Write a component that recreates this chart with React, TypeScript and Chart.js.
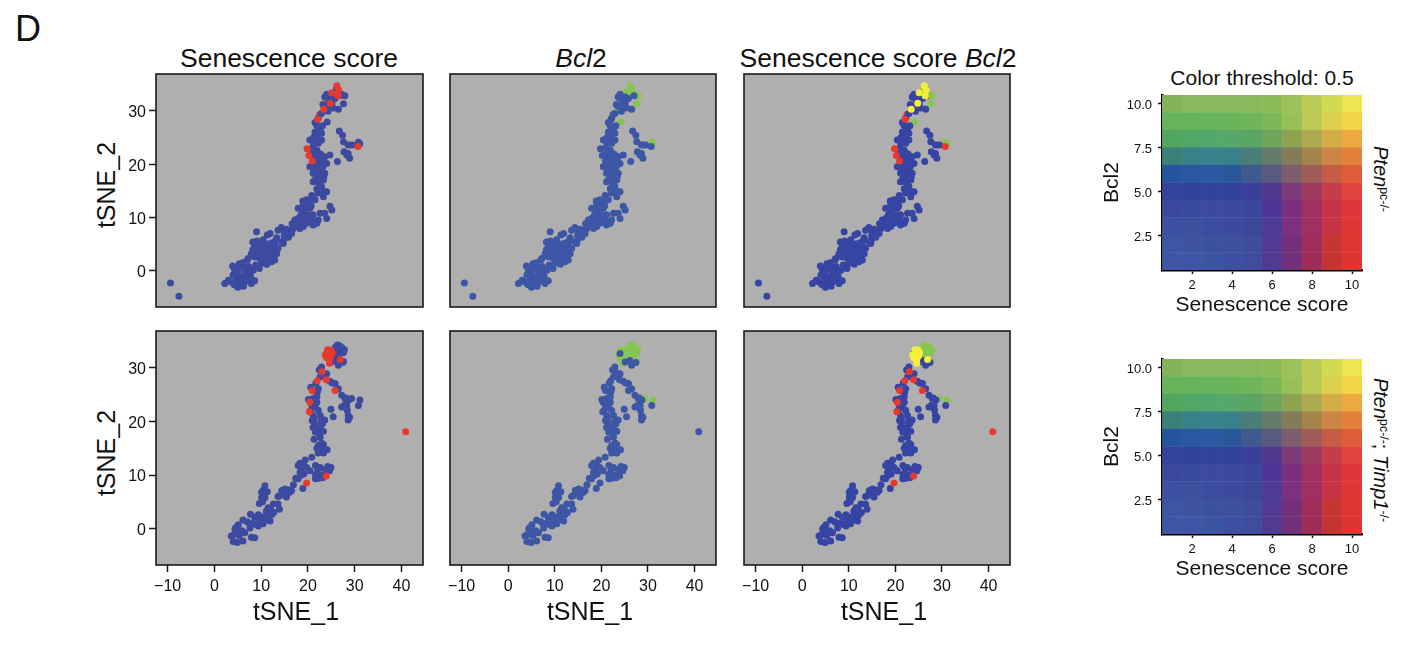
import { useEffect, useRef, type CSSProperties, type ReactNode } from "react"
import { Chart, registerables } from "chart.js"

Chart.register(...registerables)

type Cell = [number, number]

const xTicks = [-10, 0, 10, 20, 30, 40]
const yTicks = [0, 10, 20, 30]
const scoreLevels = [1, 2, 3, 4, 5, 6, 7, 8, 9, 10]
const bcl2Levels = [1, 2, 3, 4, 5, 6, 7, 8, 9, 10]
const bcl2Ticks = [2.5, 5, 7.5, 10]

// Pten pc-/- cells, split by what they express
const topCells: Cell[] = [
  [-9.4, -2.3], [-7.6, -4.8],
  [2.2, -2.4], [3.6, -2.1], [4, -0.8], [4.3, 0.3], [5.3, 1.3], [5, 0.1], [4.8, -1.4], [5.3, -2.1], [5, -3.1], [4.6, -2.7],
  [5.8, -2.6], [6.5, -2.1], [7.2, -1.4], [7.9, -2.4], [8.6, -1.9], [7.6, -0.2], [6.5, 0], [8.3, 0.1], [7.2, 2.3], [7.9, 3.2],
  [7, 2], [9.6, 0.4], [10.1, 1.4], [11.2, 1.2], [12.2, 1.7], [12.9, 2], [11.9, 2.9], [10.8, 2.3], [9.7, 2.3], [9, 3.2],
  [8.6, 4.5], [9.7, 4.8], [10.4, 5.8], [9, 7.3], [10.8, 3.9], [11.9, 4.2], [12.9, 4.8], [13.6, 4.2], [12.6, 3.2], [14.4, 5.4],
  [14.7, 5.1], [13.3, 6.2], [11.9, 7], [11.3, 6.7], [13.6, 7.6], [14.3, 8.1], [15, 7.3], [15.8, 6.3], [16.1, 7.6], [16.9, 7.9],
  [17.6, 8.9], [17.2, 9.5], [18.3, 7.9], [19, 8.3], [17.9, 9.8], [19.7, 8.9], [21.1, 8.6], [21.9, 8.9], [22.2, 9.5], [24, 9.8],
  [25.1, 11.4], [23.6, 10.8], [22.6, 10.8], [24.7, 12.1], [17.9, 11.7], [19, 11.1], [20, 10.5], [21.1, 10.5], [19, 12.4],
  [19.7, 13.3], [20.8, 14.1], [21.5, 13.3], [20.4, 11.7], [19.3, 10.2], [9.5, 3.9], [10.3, 3], [11.4, 3.4], [8.2, 4], [6, 0.9],
  [6.9, -0.6], [5.9, -1.3], [4.5, -2], [13, 5.6], [12.2, 5.2], [14.9, 6.6], [16.6, 8.8], [18.6, 9.3], [18.9, 13.1], [20.1, 12.8],
  [3, -1.8], [4.2, -2.6], [5.6, -1], [6.2, -2.9], [7.7, -1], [6, 1.5], [5.2, 0.7], [4.5, -0.6], [3.9, 0.9], [7.3, 0.8],
  [8.8, 1.1], [8.6, 2.6], [10.5, 1.9], [9.9, 3.4], [10.6, 4.6], [11.6, 2.4], [12.8, 3.9], [13.3, 3.2], [11.3, 5], [9.1, 5.6],
  [8.2, 5.4], [14.9, 5.9], [15.4, 7.8], [16.5, 7], [17.1, 8.6], [18, 8.5], [18.5, 10.5], [19.5, 11.8], [20.4, 13.1], [20.7, 12.2],
  [19.6, 9.8], [18.6, 8.7], [21, 9.3], [20.1, 9.4],
  [22.9, 15.8], [23.3, 17], [24, 14.8], [23.3, 13.9], [21.9, 15.4], [21.1, 16.7], [22.2, 16.7], [21.1, 18.3], [22, 17.6], [23.6, 18.3],
  [22.9, 19.2], [24, 20.1], [20.4, 19.5], [21.5, 19.8], [22.6, 20.8], [23.6, 21.4], [24.7, 21.7], [22.2, 21.7], [23, 21.5], [21.1, 21.4],
  [21.9, 22.6], [21, 23.2], [20.4, 24.5], [21.1, 24.2], [22.2, 23.9], [22.9, 24.5], [21.9, 25.1], [21.5, 26], [22.6, 26.4], [21.9, 27.3],
  [22.9, 25.8], [22.2, 28.6], [22.9, 29.5], [23.6, 30.8], [25.1, 31.4], [26.5, 30.3], [23.6, 32.6], [24, 33.1], [25.1, 32.6],
  [25.8, 32.3], [22.5, 19], [23, 18], [22.3, 15], [21.8, 20.5], [23, 20],
  [22.1, 14.6], [23.1, 15], [22.5, 16.2], [21.6, 17.2], [23.4, 17.6], [21.3, 18.9], [22.3, 18.4], [23.2, 19.5], [21.2, 20], [22.1, 20.2],
  [23.3, 20.8], [21.9, 21], [22.7, 21.9], [20.9, 22], [21.5, 22.4], [22.3, 24.6], [21.2, 25], [22.3, 27], [23.1, 27.2], [21.5, 27.8],
  [24.3, 29.9], [24.8, 31], [25.4, 30.5], [24.5, 32], [23.2, 31.2],
  [26.7, 26.2], [27.4, 25.4], [27.6, 24.2], [28.6, 23.6], [29.5, 23.6], [27.7, 22.3], [28.6, 22], [28.9, 21.1], [28.3, 21.7], [26.3, 20.5],
]
const topScoreOnly: Cell[] = [[22.1, 28.4], [19.8, 22.9], [20.2, 21.6], [20.9, 20.6], [30.7, 23.3]]
const topBcl2Only: Cell[] = [
  [27.9, 32.8], [27.6, 31.3], [24.1, 27.9], [31.1, 23.8], [27.2, 33.1], [30.8, 24.1], [26.1, 34.2], [26.5, 32.9],
]
const topBoth: Cell[] = [[26.2, 34.7], [26.6, 33.9], [25.1, 33.4], [26.4, 32.8], [24.8, 31.4], [23.4, 30.3]]
const topScoreBehind: Cell[] = [[24.4, 31], [23.8, 32.5], [22.5, 29.3], [21.9, 27.3], [29, 23.6], [22.4, 17.9], [27, 32.8]]

// Pten pc-/-; Timp1 -/- cells
const bottomCells: Cell[] = [
  [4, -1.2], [3.6, -1.4], [4.4, -0.1], [5.1, 0.7], [4.6, 0.2], [4, -2.4], [4.9, -2.6], [6.1, -2.3], [5.3, -1.3], [6.5, -0.8],
  [6.1, 1.6], [7.6, 0.8], [7.6, 0.1], [7.9, -1.6], [8.6, -1.7], [9, 0.7], [9.6, 1.4], [7.7, 2.7], [8.6, 2.1], [10.1, 2.1],
  [10.4, 0.9], [11.1, 3], [11.5, 2.1], [11.1, 3.3], [11.9, 1.4], [12.2, 2.6], [12.7, 3], [12.6, 4.6], [13.9, 3.6], [13.6, 4.6],
  [9.6, 4.7], [10.1, 5.8], [10.4, 7.1], [10.8, 8], [11.3, 6.9], [10.1, 6.8], [10.8, 5.8], [13.6, 6], [14.4, 7.1], [15.4, 5.9],
  [15.1, 7.4], [16.5, 7.1], [16.1, 6.8], [16.9, 8.2], [17.4, 9.4], [17.9, 9.3], [18.9, 7.5], [17.9, 11.8], [18.6, 11.1], [19, 12.1],
  [19.4, 12.8], [20.8, 13.3], [18.3, 10.5], [19.1, 10.2], [20.4, 10.8], [21.6, 11.8], [22.6, 11.4], [23.6, 11], [24.9, 11.4], [24.6, 10.8],
  [21.6, 9.3], [22.2, 9.4], [22.9, 9.9], [21.6, 10.1], [11.5, 3.9], [9.4, 2.6], [14.9, 6.8],
  [5, -0.5], [5.9, -0.4], [7, 1.3], [8.2, 1], [9.4, 0.5], [10.9, 1.6], [12, 3.6], [10.3, 5], [10.8, 6.6], [14, 6.2],
  [15.8, 7.2], [18.4, 9.9], [19.7, 11.4], [18.3, 12.2], [22.1, 11], [23.1, 9.5], [24.2, 11.6],
  [22.2, 14.1], [23.3, 14.1], [22.2, 15.5], [23.3, 15.7], [24.1, 14.7], [22.9, 14.9], [21.3, 16.7], [22.6, 17.1], [21.1, 18.9], [21.9, 18.3],
  [23.3, 18.2], [22.6, 18.9], [22.2, 18], [23.1, 19.6], [23.6, 20.3], [22.6, 21.1], [20.9, 20.2], [21.1, 21.1], [20.6, 22.1], [22.2, 22.1],
  [21.5, 22.7], [20.1, 24.1], [21.1, 24.3], [21.9, 23.6], [22.2, 26.1], [20.6, 26.4], [21.5, 25.7], [22.6, 28.3], [22.4, 29.6], [22.9, 30.2],
  [24, 28.9], [21.9, 24.6], [20.8, 23.2], [21.4, 19.6],
  [21.9, 15], [22.9, 16], [21.6, 18], [22.8, 20], [21.3, 20.4], [21.5, 23.3], [21, 22.8], [22, 25.5], [21.7, 27.2], [23, 28.4],
  [24.7, 27.5], [25.8, 27.1], [26.5, 26.1], [27.2, 24.9], [27.9, 24.3], [28.7, 24], [30.8, 23], [27.2, 22.7],
  [28.3, 23], [28.4, 22.1], [28.6, 21.1], [28.6, 20.3], [24.9, 22.3], [25.4, 20.9], [25.2, 27.2], [27.7, 23], [28.2, 22.5], [28.9, 20.8], [28.1, 24.4],
  [26.5, 30.5], [27.4, 31], [25.1, 31.1], [26.1, 31.4], [24, 32.7],
]
const bottomScoreOnly: Cell[] = [
  [23, 29.3], [22, 27.6], [23.9, 27.8], [25.8, 25.8], [20.9, 25.8], [20.4, 23.6], [20.3, 21.8], [23.9, 9.8], [19.7, 8.5], [40.9, 18.1],
]
const bottomBcl2Only: Cell[] = [
  [26.2, 33.8], [26.9, 33], [27.6, 32.9], [25.5, 33.3], [26.6, 32.2], [27.6, 31.2], [29.3, 24.3], [31.1, 24], [26.3, 34.3], [25.8, 32.4],
  [27.2, 33.8], [25.9, 33.9], [26.8, 34.1], [27.8, 33.4],
]
const bottomBoth: Cell[] = [
  [24.4, 32.9], [23.7, 32.4], [24.6, 31.7], [26.9, 31.6], [24.6, 30.9], [24.9, 33.3], [24.9, 32.2], [24.2, 33.4], [25.2, 32.8], [24, 31.9],
]

// legend colours, rows run from Bcl2 = 1 up to Bcl2 = 10
const legendColors = [
  ["#3e57a5", "#3e56a5", "#3a55a2", "#3e50a2", "#3f4d9e", "#503a92", "#70307a", "#a02d58", "#c43532", "#dc3630"],
  ["#3e55a2", "#3e52a2", "#3a52a0", "#3e50a0", "#3f4c9e", "#503a94", "#742f7a", "#a02d5a", "#c43534", "#df3732"],
  ["#3c4fa0", "#3e4fa0", "#3c4c9e", "#3c4a9e", "#3c489a", "#4f3a94", "#7c3082", "#a0305f", "#c83446", "#df3734"],
  ["#3a499c", "#3a4a9e", "#3c4a9e", "#3c4a9e", "#3c469c", "#503596", "#7a2f80", "#a03060", "#c63348", "#de363a"],
  ["#34449a", "#32449a", "#32449a", "#32449a", "#38409a", "#503a8e", "#7c3a78", "#a03a60", "#c43e48", "#e0443c"],
  ["#2655a0", "#2a57a0", "#2a58a2", "#28589a", "#3f5a8e", "#5a5a80", "#7e5c6c", "#a05c56", "#c65c46", "#e05c38"],
  ["#3a8078", "#3a8087", "#3b808f", "#3a8088", "#4a7d78", "#647a6a", "#847b58", "#a6844a", "#cc8545", "#e48038"],
  ["#52a660", "#52a767", "#55a770", "#57a76a", "#5aa562", "#6fa55b", "#8ea352", "#aea94f", "#d3ac47", "#eda840"],
  ["#66b35a", "#66b45a", "#68b45a", "#6ab55a", "#70b55a", "#7cb85a", "#98c058", "#bbcb55", "#dbd14e", "#f3d545"],
  ["#83b45a", "#88b95c", "#88b95c", "#88b95c", "#88b95c", "#8abc5a", "#9bc25a", "#bccd55", "#d1da50", "#eee64f"],
]

const RED = "#e8392f"
const GREEN = "#86c552"
const YELLOW = "#f7ee3b"
const FONT = '"Liberation Sans", Arial, sans-serif'
const INK = "#1a1a1a"

interface Layer {
  color: string
  cells: Cell[]
}

interface Box {
  left: number
  top: number
  right: number
  bottom: number
}

const panelFrame = {
  id: "panelFrame",
  beforeDraw(chart: Chart) {
    const { ctx, chartArea: a } = chart
    ctx.save()
    ctx.fillStyle = "#afafaf"
    ctx.fillRect(a.left, a.top, a.width, a.height)
    ctx.restore()
  },
  afterDraw(chart: Chart) {
    const { ctx, chartArea: a } = chart
    ctx.save()
    ctx.strokeStyle = INK
    ctx.lineWidth = 1.6
    ctx.strokeRect(a.left, a.top, a.width, a.height)
    ctx.restore()
  },
}

// axis sizes are fixed so the plot area lands exactly on the box
function fixAxis(axis: any, size: number) {
  if (axis.isHorizontal()) axis.height = size
  else axis.width = size
  axis.paddingLeft = 0
  axis.paddingRight = 0
  axis.paddingTop = 0
  axis.paddingBottom = 0
}

function TsnePanel({ box, layers, showX, showY }: { box: Box; layers: Layer[]; showX: boolean; showY: boolean }) {
  const canvasRef = useRef<HTMLCanvasElement>(null)
  const ml = showY ? 66 : 4
  const mb = showX ? 34 : 4

  useEffect(() => {
    if (!canvasRef.current) return
    const font = { size: 16, family: FONT }
    const gridStyle = { display: true, drawOnChartArea: false, tickLength: 7, tickColor: INK, tickWidth: 1.5 }
    const chart = new Chart(canvasRef.current, {
      type: "scatter",
      data: {
        datasets: layers.map((layer, i) => ({
          data: layer.cells.map(([x, y]) => ({ x, y })),
          backgroundColor: layer.color,
          borderWidth: 0,
          pointRadius: 3.5,
          order: layers.length - i,
        })),
      },
      plugins: [panelFrame],
      options: {
        animation: false,
        responsive: false,
        layout: { padding: { left: 0, top: 4, right: 4, bottom: 0 } },
        plugins: { legend: { display: false }, tooltip: { enabled: false } },
        scales: {
          x: {
            type: "linear",
            display: showX,
            min: -12.5,
            max: 44.6,
            afterBuildTicks: (axis: any) => {
              axis.ticks = xTicks.map((value) => ({ value }))
            },
            afterFit: (axis: any) => fixAxis(axis, mb),
            border: { display: false },
            grid: gridStyle,
            ticks: { color: "#111", font, padding: 5, maxRotation: 0, callback: (v: any) => String(v).replace("-", "\u2212") },
          },
          y: {
            type: "linear",
            display: showY,
            min: -6.8,
            max: 36.9,
            afterBuildTicks: (axis: any) => {
              axis.ticks = yTicks.map((value) => ({ value }))
            },
            afterFit: (axis: any) => fixAxis(axis, ml),
            border: { display: false },
            grid: gridStyle,
            ticks: { color: "#111", font, padding: 3, labelOffset: 2 },
          },
        },
      },
    } as any)
    return () => chart.destroy()
  }, [box, layers, showX, showY])

  const style: CSSProperties = { position: "absolute", left: box.left - ml, top: box.top - 4 }
  return (
    <canvas
      ref={canvasRef}
      width={box.right - box.left + ml + 4}
      height={box.bottom - box.top + 4 + mb}
      style={style}
    />
  )
}

function ColorLegend({ box }: { box: Box }) {
  const canvasRef = useRef<HTMLCanvasElement>(null)
  const ml = 62
  const mb = 48

  useEffect(() => {
    if (!canvasRef.current) return
    const titleStyle = { display: true, color: "#111", font: { size: 21, family: FONT }, padding: 0 }
    const font = { size: 13, family: FONT }
    const gridStyle = { display: true, offset: false, drawOnChartArea: false, tickLength: 4, tickColor: "#111", tickWidth: 1.5 }
    const chart = new Chart(canvasRef.current, {
      type: "bar",
      data: {
        labels: scoreLevels.map(String),
        datasets: bcl2Levels.map((level, row) => ({
          data: scoreLevels.map(() => [level - 0.5, level + 0.5]),
          backgroundColor: legendColors[row],
          borderColor: legendColors[row],
          borderWidth: 0.4,
          borderSkipped: false,
          grouped: false,
          barPercentage: 1,
          categoryPercentage: 1,
        })),
      },
      options: {
        animation: false,
        responsive: false,
        layout: { padding: { top: 4, right: 4 } },
        plugins: { legend: { display: false }, tooltip: { enabled: false } },
        scales: {
          x: {
            afterBuildTicks: (axis: any) => {
              axis.ticks = axis.ticks.filter((t: any) => (t.value + 1) % 2 === 0)
            },
            afterFit: (axis: any) => fixAxis(axis, mb),
            border: { color: "#000", width: 2.5 },
            grid: gridStyle,
            title: { ...titleStyle, text: "Senescence score" },
            ticks: { color: "#111", font, padding: 4, autoSkip: false, maxRotation: 0 },
          },
          y: {
            min: 0.5,
            max: 10.5,
            afterBuildTicks: (axis: any) => {
              axis.ticks = bcl2Ticks.map((value) => ({ value }))
            },
            afterFit: (axis: any) => fixAxis(axis, ml),
            border: { color: "#000", width: 2.5 },
            grid: gridStyle,
            title: { ...titleStyle, text: "Bcl2" },
            ticks: { color: "#111", font, padding: 6, labelOffset: 2, callback: (v: any) => Number(v).toFixed(1) },
          },
        },
      },
    } as any)
    return () => chart.destroy()
  }, [box])

  const style: CSSProperties = { position: "absolute", left: box.left - ml, top: box.top - 4 }
  return (
    <canvas
      ref={canvasRef}
      width={box.right - box.left + ml + 4}
      height={box.bottom - box.top + 4 + mb}
      style={style}
    />
  )
}

// free text, placed by its centre
function Label({ x, y, size, rotate, children }: { x: number; y: number; size: number; rotate?: number; children: ReactNode }) {
  return (
    <div
      style={{
        position: "absolute",
        left: x,
        top: y,
        fontFamily: FONT,
        fontSize: size,
        lineHeight: 1,
        color: "#111",
        whiteSpace: "nowrap",
        transform: `translate(-50%, -50%) rotate(${rotate ?? 0}deg)`,
      }}
    >
      {children}
    </div>
  )
}

const sup: CSSProperties = { fontSize: "0.62em", position: "relative", top: "-0.45em" }

const topCols: Box[] = [
  { left: 156, top: 74, right: 423, bottom: 307 },
  { left: 450, top: 74, right: 716, bottom: 307 },
  { left: 744, top: 74, right: 1010, bottom: 307 },
]
const bottomCols: Box[] = topCols.map((b) => ({ ...b, top: 331, bottom: 565 }))

function layersFor(cells: Cell[], scoreOnly: Cell[], bcl2Only: Cell[], both: Cell[], behind: Cell[]) {
  return [
    [
      { color: RED, cells: behind },
      { color: "#3c4aa0", cells: [...cells, ...bcl2Only] },
      { color: RED, cells: [...scoreOnly, ...both] },
    ],
    [
      { color: GREEN, cells: [...bcl2Only, ...both] },
      { color: "#3d56a5", cells: [...cells, ...scoreOnly, ...behind] },
    ],
    [
      { color: RED, cells: behind },
      { color: GREEN, cells: bcl2Only },
      { color: "#3645a3", cells },
      { color: RED, cells: scoreOnly },
      { color: YELLOW, cells: both },
    ],
  ] as Layer[][]
}

const topLayers = layersFor(topCells, topScoreOnly, topBcl2Only, topBoth, topScoreBehind)
const bottomLayers = layersFor(bottomCells, bottomScoreOnly, bottomBcl2Only, bottomBoth, [])
const topLegend: Box = { left: 1162, top: 95, right: 1362, bottom: 270 }
const bottomLegend: Box = { left: 1162, top: 359, right: 1362, bottom: 534 }

export default function App() {
  return (
    <div style={{ position: "absolute", left: 0, top: 0, width: 1426, height: 650, background: "#fff", overflow: "hidden" }}>
      <Label x={28} y={29} size={36}>D</Label>

      <Label x={289} y={58} size={26.5}>Senescence score</Label>
      <Label x={581} y={58} size={26.5}><i>Bcl</i>2</Label>
      <Label x={878} y={58} size={26.5}>Senescence score <i>Bcl</i>2</Label>

      <Label x={106} y={185} size={25} rotate={-90}>tSNE_2</Label>
      <Label x={106} y={453} size={25} rotate={-90}>tSNE_2</Label>

      {topCols.map((box, i) => (
        <TsnePanel key={`t${i}`} box={box} layers={topLayers[i]} showX={false} showY={i === 0} />
      ))}
      {bottomCols.map((box, i) => (
        <TsnePanel key={`b${i}`} box={box} layers={bottomLayers[i]} showX showY={i === 0} />
      ))}

      <Label x={296} y={611} size={25}>tSNE_1</Label>
      <Label x={590} y={611} size={25}>tSNE_1</Label>
      <Label x={884} y={611} size={25}>tSNE_1</Label>

      <Label x={1262} y={77} size={21}>Color threshold: 0.5</Label>
      <ColorLegend box={topLegend} />
      <ColorLegend box={bottomLegend} />

      <Label x={1381} y={179} size={20} rotate={90}>
        <i>Pten</i><span style={sup}>pc-/-</span>
      </Label>
      <Label x={1381} y={450} size={20} rotate={90}>
        <i>Pten</i><span style={sup}>pc-/-</span>; <i>Timp1</i><span style={sup}>-/-</span>
      </Label>
    </div>
  )
}
